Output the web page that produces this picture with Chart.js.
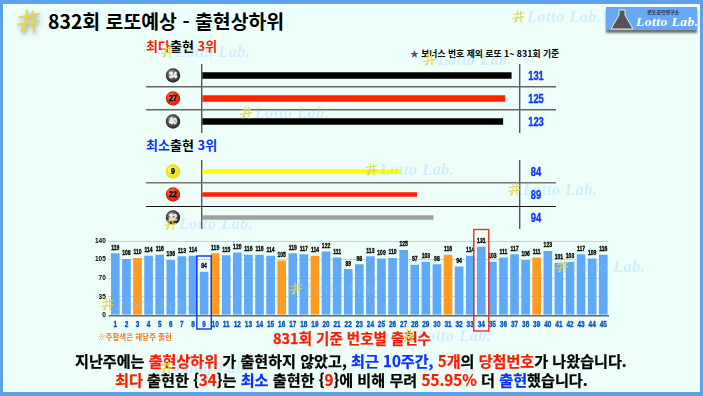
<!DOCTYPE html>
<html lang="ko">
<head>
    <meta charset="UTF-8">
    <title>832회 로또예상 - 출현상하위</title>
    <script src="https://cdn.jsdelivr.net/npm/chart.js"></script>
    <style>
        html, body { margin: 0; padding: 0; }
        body { width: 703px; height: 396px; overflow: hidden; font-family: 'Noto Sans CJK KR', sans-serif; }
        #frame { position: relative; width: 703px; height: 396px; box-sizing: border-box; overflow: hidden;
            background: #eefffa; border: solid #5fa2ea; border-width: 4px 3px 4px 3px; }
        #page { position: absolute; left: -3px; top: -4px; width: 703px; height: 396px; }
        canvas { position: absolute; }
        .txt { position: absolute; white-space: nowrap; font-weight: 700; color: #000; line-height: 1; }
        .heavy { -webkit-text-stroke: 0.25px currentColor; }
        .red { color: #ff1a00; }
        .blue { color: #0a32ff; }
        .mark { position: absolute; white-space: nowrap; font: italic 700 16px 'Liberation Serif', serif;
            letter-spacing: 0.6px; color: rgba(140, 195, 250, 0.28); line-height: 1; pointer-events: none; }
        .glyph { position: absolute; pointer-events: none; }
        #logo { position: absolute; left: 606px; top: 7px; width: 91px; height: 23px; background: #66a8f5;
            box-shadow: 0 3px 2px rgba(70, 70, 70, 0.75); overflow: hidden; }
        #logo .big { position: absolute; left: 30px; top: 8px; font: italic 700 13.5px 'Liberation Serif', serif;
            color: #fff; white-space: nowrap; letter-spacing: 0.5px; line-height: 1; }
        #logo .small { position: absolute; left: 41px; top: 2px; font-size: 5px; font-weight: 700; color: #223; white-space: nowrap; line-height: 1; }
        #logo svg { position: absolute; left: 3px; top: 1px; }
    </style>
</head>
<body>
<div id="frame"><div id="page">
    <div class="txt" style="left:48px;top:11px;font-size:19.4px;">832회 로또예상 - 출현상하위</div>
    <div class="txt" style="left:146px;top:39px;font-size:13px;"><span class="red">최다</span>출현 <span class="red">3위</span></div>
    <div class="txt" style="left:410px;top:50px;font-size:8.8px;"><span style="color:#555">★</span> 보너스 번호 제외 로또 1~ 831회 기준</div>
    <div class="txt" style="left:146px;top:138px;font-size:13px;"><span class="blue">최소</span>출현 <span class="blue">3위</span></div>

    <canvas id="topChart" style="left:146px;top:64px;"></canvas>
    <canvas id="lowChart" style="left:146px;top:160px;"></canvas>
    <canvas id="countChart" style="left:84px;top:226px;"></canvas>

    <div class="txt" style="left:98px;top:333px;font-size:7.5px;color:#f47a20;">※주황색은 해당주 출현</div>
    <div class="txt red heavy" style="left:273px;top:331px;font-size:14.5px;">831회 기준 번호별 출현수</div>
    <div class="txt heavy" style="left:75px;top:353px;font-size:15.1px;">지난주에는 <span class="red">출현상하위</span> 가 출현하지 않았고, <span class="blue">최근 10주간,</span> <span class="red">5개</span>의 <span class="red">당첨번호</span>가 나왔습니다.</div>
    <div class="txt heavy" style="left:115px;top:372px;font-size:15.15px;"><span class="red">최다</span> 출현한 {<span class="red">34</span>}는 <span class="blue">최소</span> 출현한 {<span class="red">9</span>}에 비해 무려 <span class="red">55.95%</span> 더 <span class="blue">출현</span>했습니다.</div>

    <div id="logo">
        <svg width="26" height="22" viewBox="0 0 26 22"><path d="M10 2h6v5l8 14H2l8-14z" fill="#555" stroke="#eee" stroke-width="1"/></svg>
        <div class="small">로또공학연구소</div>
        <div class="big">Lotto Lab.</div>
    </div>
    <div id="marks"></div>
</div></div>

<script>
    // 번호 1~45 출현수 (831회 기준)
    const numbers = ['1','2','3','4','5','6','7','8','9','10','11','12','13','14','15','16','17','18','19','20','21','22','23','24','25','26','27','28','29','30','31','32','33','34','35','36','37','38','39','40','41','42','43','44','45'];
    const counts = [119,108,110,114,116,106,113,114,84,119,115,120,116,116,114,105,119,117,114,122,111,89,98,113,109,110,125,97,103,98,116,94,114,131,103,111,117,106,111,123,101,103,117,109,116];
    const thisWeek = ['3','10','16','19','31','39']; // 해당주 출현
    const yTicks = [0, 35, 70, 105, 140];

    const topNumbers = ['34', '27', '40'];
    const topCounts = [131, 125, 123];
    const lowNumbers = ['9', '22', '32'];
    const lowCounts = [84, 89, 94];

    const NUM_FONT = '"Liberation Sans", sans-serif';

    function ballColor(n) {
        n = parseInt(n);
        if (n <= 10) return ['#ffff66', '#e6d800', '#000'];
        if (n <= 20) return ['#88bbff', '#1a55d0', '#fff'];
        if (n <= 30) return ['#ff7755', '#dd1500', '#000'];
        if (n <= 40) return ['#aaaaaa', '#222222', '#fff'];
        return ['#88dd88', '#229922', '#fff'];
    }

    // 폭을 줄인 숫자 (원본 숫자가 좁고 굵은 글꼴이라서)
    function narrowText(ctx, text, x, y, sx) {
        ctx.save();
        ctx.translate(x, y);
        ctx.scale(sx, 1);
        ctx.strokeStyle = ctx.fillStyle;
        ctx.lineWidth = 0.35;
        ctx.strokeText(text, 0, 0);
        ctx.fillText(text, 0, 0);
        ctx.restore();
    }

    // 공, 오른쪽 숫자
    const rankLabels = {
        id: 'rankLabels',
        afterDatasetsDraw(chart) {
            const ctx = chart.ctx;
            const yScale = chart.scales.y;
            const opt = chart.options.plugins.rankLabels;
            chart.data.labels.forEach((label, i) => {
                const y = yScale.getPixelForValue(i);
                const c = ballColor(label);
                const cx = 27, r = 7.2;
                const g = ctx.createRadialGradient(cx - 2, y - 3, 1, cx, y, r);
                g.addColorStop(0, c[0]);
                g.addColorStop(1, c[1]);
                ctx.save();
                ctx.fillStyle = g;
                ctx.beginPath();
                ctx.arc(cx, y, r, 0, Math.PI * 2);
                ctx.fill();
                ctx.fillStyle = c[2];
                ctx.textAlign = 'center';
                ctx.textBaseline = 'middle';
                ctx.font = 'bold 9px ' + NUM_FONT;
                narrowText(ctx, label, cx, y + 0.5, 0.8);
                ctx.fillStyle = '#0a32ff';
                ctx.font = 'bold 13px ' + NUM_FONT;
                narrowText(ctx, String(opt.values[i]), 390, y + 0.5, 0.72);
                ctx.restore();
            });
        }
    };

    // 원본 막대가 0 기준이 아니라서 축 범위를 픽셀에 맞춰 잡음
    function makeRankChart(id, labels, values, o) {
        const canvas = document.getElementById(id);
        return new Chart(canvas, {
            type: 'bar',
            data: {
                labels: labels,
                datasets: [{
                    data: values,
                    base: o.base,
                    backgroundColor: o.colors,
                    barThickness: o.thick,
                    borderSkipped: false
                }]
            },
            options: {
                indexAxis: 'y',
                responsive: false,
                animation: false,
                layout: { padding: 0 },
                plugins: {
                    legend: { display: false },
                    tooltip: { enabled: false },
                    rankLabels: { values: values }
                },
                scales: {
                    x: {
                        min: o.min,
                        max: o.max,
                        afterBuildTicks(scale) {
                            scale.ticks = [{ value: o.base }, { value: o.ref }];
                        },
                        ticks: { display: false },
                        border: { display: false },
                        grid: { color: '#555', lineWidth: 1.4, drawTicks: false }
                    },
                    y: {
                        ticks: { display: false },
                        border: { display: false },
                        grid: {
                            offset: true,
                            drawTicks: false,
                            color: c => o.lines[c.index] || 'transparent',
                            lineWidth: c => (o.widths[c.index] || 0)
                        }
                    }
                }
            },
            plugins: [rankLabels]
        });
    }

    function sized(id, w, h) {
        const c = document.getElementById(id);
        c.width = w; c.height = h;
        c.style.width = w + 'px'; c.style.height = h + 'px';
    }
    sized('topChart', 410, 69);
    sized('lowChart', 410, 69);
    sized('countChart', 528, 110);

    makeRankChart('topChart', topNumbers, topCounts, {
        min: -214.2, max: 173.3, base: -161.3, ref: 139.25, thick: 6,
        colors: ['#000000', '#ff2200', '#000000'],
        lines: [null, '#666', '#666', null], widths: [0, 1.4, 1.4, 0]
    });
    makeRankChart('lowChart', lowNumbers, lowCounts, {
        min: 7, max: 131.2, base: 23.95, ref: 120.3, thick: 4,
        colors: ['#ffff00', '#ff2200', '#a0a0a0'],
        lines: [null, '#777', '#111', null], widths: [0, 1.4, 1, 0]
    });

    // 막대 위 숫자, x축 번호, 최다/최소 번호 박스
    const countLabels = {
        id: 'countLabels',
        afterDatasetsDraw(chart) {
            const ctx = chart.ctx;
            const x = chart.scales.x;
            const bars = chart.getDatasetMeta(0).data;
            ctx.save();
            ctx.textAlign = 'center';
            ctx.textBaseline = 'bottom';
            ctx.fillStyle = '#000';
            ctx.font = 'bold 7px ' + NUM_FONT;
            bars.forEach((b, i) => narrowText(ctx, String(counts[i]), b.x, b.y - 1, 0.72));

            ctx.textBaseline = 'middle';
            ctx.fillStyle = '#0a50c0';
            ctx.font = 'bold 9px ' + NUM_FONT;
            numbers.forEach((n, i) => narrowText(ctx, n, x.getPixelForValue(i), chart.chartArea.bottom + 9, 0.72));

            const box = (value, color, top, bottom, half) => {
                const px = x.getPixelForValue(numbers.indexOf(value));
                ctx.strokeStyle = color;
                ctx.lineWidth = 1.4;
                ctx.strokeRect(px - half, top, half * 2, bottom - top);
            };
            box(numbers[counts.indexOf(Math.min(...counts))], '#1030f0', 30, 103, 7.2);
            box(numbers[counts.indexOf(Math.max(...counts))], '#e83020', 3.5, 105, 7.5);
            ctx.restore();
        }
    };

    new Chart(document.getElementById('countChart'), {
        type: 'bar',
        data: {
            labels: numbers,
            datasets: [{
                data: counts,
                backgroundColor: numbers.map(n => thisWeek.includes(n) ? '#ff9a22' : '#5fa9f8'),
                borderColor: 'rgba(255,255,255,0.35)',
                borderWidth: 1,
                barPercentage: 0.96,
                categoryPercentage: 1
            }]
        },
        options: {
            responsive: false,
            animation: false,
            layout: { padding: { top: 15, right: 3.2, left: 0, bottom: 0 } },
            plugins: { legend: { display: false }, tooltip: { enabled: false } },
            scales: {
                x: {
                    afterFit(scale) { scale.height = 20.7; },
                    grid: { display: false, drawTicks: false },
                    border: { color: '#666', width: 1.5 },
                    ticks: { display: false }
                },
                y: {
                    min: 0,
                    max: 140,
                    afterFit(scale) { scale.width = 25.8; },
                    afterBuildTicks(scale) { scale.ticks = yTicks.map(v => ({ value: v })); },
                    border: { display: false },
                    grid: { color: '#c8d2d2', lineWidth: 1, tickLength: 2 },
                    ticks: { color: '#000', padding: 2, font: { size: 6.5, weight: 'bold', family: 'Liberation Sans' } }
                }
            }
        },
        plugins: [countLabels]
    });

    // 워터마크
    function glyph(x, y, s, extra) {
        return `<svg class="glyph" style="left:${x}px;top:${y}px;${extra || ''}" width="${s}" height="${s}" viewBox="0 0 20 20">
            <path d="M2 7C8 5 13 7 18 4M1 13C7 11 12 13 18 10M8 1C9 7 8 13 4 18C6 19 7 17 7 15M13 2C13 8 14 14 14 19"
            fill="none" stroke="#e3d648" stroke-width="1.6" stroke-linecap="round"/></svg>`;
    }
    const markSpots = [[520,17],[169,52],[248,113],[431,60],[373,170],[516,190],[172,224],[109,305],[298,289],[564,267],[410,336],[168,368]];
    let html = glyph(17, 9, 24, 'filter:drop-shadow(1px 2px 2px rgba(60,60,60,.55));');
    markSpots.forEach(p => {
        html += glyph(p[0] - 8, p[1] - 7, 13);
        html += `<div class="mark" style="left:${p[0] + 7}px;top:${p[1] - 8}px;">Lotto Lab.</div>`;
    });
    document.getElementById('marks').innerHTML = html;
</script>
</body>
</html>
